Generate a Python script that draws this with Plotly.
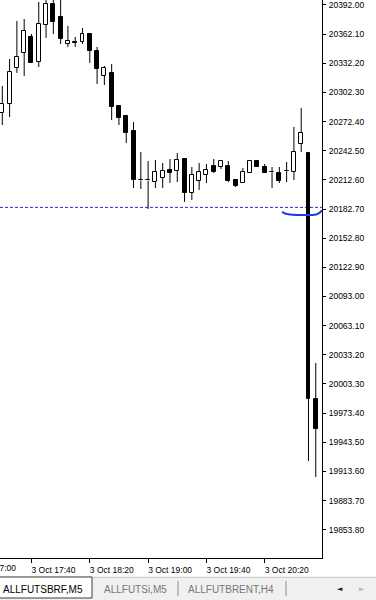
import plotly.graph_objects as go
from datetime import datetime

# ---------------- data ----------------
times = ["2023-10-03 %02d:%02d:00" % divmod(17 * 60 + 20 + 5 * i, 60) for i in range(44)]

opens = [20281.2, 20290.5, 20327.4, 20342.8, 20359.2, 20333.5, 20371.5, 20393.0, 20379.7, 20352.0,
         20353.5, 20354.1, 20362.3, 20344.8, 20319.2, 20322.3, 20288.4, 20278.1, 20262.8, 20212.5,
         20212.0, 20210.4, 20214.5, 20222.8, 20221.7, 20234.0, 20199.2, 20211.5, 20217.6, 20226.9,
         20225.8, 20226.9, 20212.5, 20209.4, 20219.7, 20232.0, 20225.8, 20220.7, 20219.7, 20221.7,
         20220.7, 20249.4, 20240.2, 19987.9]
highs = [20308.9, 20336.6, 20375.6, 20377.6, 20362.3, 20395.1, 20399.2, 20400.2, 20402.3, 20370.5,
         20359.2, 20368.4, 20363.3, 20348.9, 20329.4, 20331.5, 20289.4, 20279.2, 20272.0, 20241.2,
         20232.0, 20233.0, 20229.9, 20234.0, 20240.2, 20234.0, 20225.8, 20229.9, 20228.9, 20234.0,
         20233.0, 20232.0, 20213.5, 20224.8, 20232.0, 20233.0, 20228.9, 20225.8, 20225.8, 20231.0,
         20266.9, 20286.4, 20240.2, 20024.8]
lows = [20268.9, 20277.1, 20322.3, 20319.2, 20332.5, 20328.4, 20358.2, 20362.3, 20352.0, 20348.9,
        20348.9, 20352.0, 20332.5, 20311.0, 20309.9, 20274.0, 20268.9, 20250.5, 20204.3, 20203.3,
        20182.8, 20204.3, 20204.3, 20209.4, 20210.4, 20190.0, 20192.0, 20202.3, 20209.4, 20219.7,
        20223.8, 20210.4, 20205.3, 20209.4, 20219.7, 20225.8, 20219.7, 20204.3, 20209.4, 20210.4,
        20212.5, 20241.2, 19924.3, 19907.9]
closes = [20290.5, 20323.3, 20338.7, 20365.3, 20332.5, 20372.5, 20393.0, 20374.6, 20357.1, 20355.1,
          20353.0, 20362.3, 20344.8, 20326.4, 20327.4, 20287.4, 20276.1, 20260.7, 20212.5, 20212.0,
          20212.5, 20220.7, 20221.7, 20219.7, 20233.0, 20199.2, 20217.6, 20220.7, 20222.8, 20220.7,
          20232.0, 20211.5, 20206.4, 20220.7, 20232.0, 20225.8, 20219.7, 20220.4, 20211.5, 20221.4,
          20241.2, 20260.7, 19987.9, 19957.1]

price_ticks = [round(20392.00 - 29.9 * k, 2) for k in range(19)]
time_tick_vals = ["2023-10-03 17:40:00", "2023-10-03 18:20:00", "2023-10-03 19:00:00",
                  "2023-10-03 19:40:00", "2023-10-03 20:20:00"]
time_tick_text = ["3 Oct 17:40", "3 Oct 18:20", "3 Oct 19:00", "3 Oct 19:40", "3 Oct 20:20"]
offscreen_tick_val = "2023-10-03 17:00:00"
offscreen_tick_text = "3 Oct 17:00"

level_price = 20184.4
curve_times = ["2023-10-03 20:31:50", "2023-10-03 20:33:54", "2023-10-03 20:37:18",
               "2023-10-03 20:55:10", "2023-10-03 20:57:13", "2023-10-03 20:59:16"]
curve_prices = [20180.0, 20178.1, 20177.1, 20177.1, 20178.6, 20181.2]

tabs = ["ALLFUTSBRF,M5", "ALLFUTSi,M5", "ALLFUTBRENT,H4"]

# ---------------- layout geometry ----------------
W, H = 376, 600
PL, PR, PB = 0, 322, 558          # plot area in px
x_range = ["2023-10-03 17:18:25", "2023-10-03 20:59:16"]
y_range = [19824.8, 20397.1]
FONT = "Liberation Sans"

def px_x(px):
    return (px - PL) / (PR - PL)

def px_y(py):
    return (PB - py) / PB

fig = go.Figure()

# wicks (upper and lower segments, so hollow bodies stay clean)
wx, wy = [], []
for t, o, h, l, c in zip(times, opens, highs, lows, closes):
    top, bot = max(o, c), min(o, c)
    if h > top:
        wx += [t, t, None]; wy += [h, top, None]
    if l < bot:
        wx += [t, t, None]; wy += [bot, l, None]
fig.add_trace(go.Scatter(x=wx, y=wy, mode="lines", line=dict(color="black", width=1),
                         hoverinfo="skip", showlegend=False))

# bodies
bases = [min(o, c) for o, c in zip(opens, closes)]
heights = [max(abs(c - o), 0.8) for o, c in zip(opens, closes)]
fills = ["white" if c > o else "black" for o, c in zip(opens, closes)]
fig.add_trace(go.Bar(x=times, y=heights, base=bases, width=164000,
                     marker=dict(color=fills, line=dict(color="black", width=1)),
                     hoverinfo="skip", showlegend=False))

# blue drawn curve
fig.add_trace(go.Scatter(x=curve_times, y=curve_prices, mode="lines",
                         line=dict(color="#1f3be6", width=2, shape="spline"),
                         hoverinfo="skip", showlegend=False))

shapes = [
    dict(type="line", xref="paper", yref="y", x0=0, x1=1, y0=level_price, y1=level_price,
         line=dict(color="#2a2ad0", width=1, dash="3px,2px"), layer="below"),
    # tab bar
    dict(type="rect", xref="paper", yref="paper", x0=px_x(0), x1=px_x(W), y0=px_y(576), y1=px_y(600),
         fillcolor="#f0f0f0", line=dict(width=0)),
    dict(type="line", xref="paper", yref="paper", x0=px_x(92), x1=px_x(W), y0=px_y(577.5), y1=px_y(577.5),
         line=dict(color="#d0d0d0", width=1)),
    dict(type="rect", xref="paper", yref="paper", x0=px_x(-2), x1=px_x(92), y0=px_y(577), y1=px_y(598),
         fillcolor="white", line=dict(color="#3c3c3c", width=1)),
    dict(type="line", xref="paper", yref="paper", x0=px_x(178), x1=px_x(178), y0=px_y(581), y1=px_y(596),
         line=dict(color="#8a8a8a", width=1)),
    dict(type="line", xref="paper", yref="paper", x0=px_x(286), x1=px_x(286), y0=px_y(581), y1=px_y(596),
         line=dict(color="#8a8a8a", width=1)),
]

t0 = datetime.fromisoformat(x_range[0]); t1 = datetime.fromisoformat(x_range[1])
frac17 = (datetime.fromisoformat(offscreen_tick_val) - t0) / (t1 - t0)

annotations = [
    dict(text=offscreen_tick_text, xref="paper", yref="paper", x=frac17, y=px_y(568),
         xanchor="left", yanchor="middle", showarrow=False, xshift=-3,
         font=dict(family=FONT, size=8.5, color="black")),
    dict(text=tabs[0], xref="paper", yref="paper", x=px_x(43), y=px_y(589), xanchor="center",
         yanchor="middle", showarrow=False, font=dict(family=FONT, size=10, color="black")),
    dict(text=tabs[1], xref="paper", yref="paper", x=px_x(135.5), y=px_y(589), xanchor="center",
         yanchor="middle", showarrow=False, font=dict(family=FONT, size=10, color="#777777")),
    dict(text=tabs[2], xref="paper", yref="paper", x=px_x(231), y=px_y(589), xanchor="center",
         yanchor="middle", showarrow=False, font=dict(family=FONT, size=10, color="#777777")),
    dict(text="◄", xref="paper", yref="paper", x=px_x(340), y=px_y(589), xanchor="center",
         yanchor="middle", showarrow=False, font=dict(family="DejaVu Sans", size=7, color="#202020")),
    dict(text="►", xref="paper", yref="paper", x=px_x(362), y=px_y(589), xanchor="center",
         yanchor="middle", showarrow=False, font=dict(family="DejaVu Sans", size=7, color="#b8b8b8")),
]

fig.update_layout(
    width=W, height=H, autosize=False,
    margin=dict(l=PL, r=W - PR, t=0, b=H - PB, pad=0),
    paper_bgcolor="white", plot_bgcolor="white",
    showlegend=False, bargap=0, barmode="overlay",
    shapes=shapes, annotations=annotations,
    xaxis=dict(type="date", range=x_range, showgrid=False, zeroline=False,
               showline=True, linecolor="black", linewidth=1,
               ticks="outside", ticklen=4, tickcolor="black", tickwidth=1,
               tickvals=time_tick_vals, ticktext=time_tick_text,
               ticklabelshift=22, ticklabelstandoff=0,
               tickfont=dict(family=FONT, size=8.5, color="black"), fixedrange=True),
    yaxis=dict(side="right", range=y_range, showgrid=False, zeroline=False,
               showline=True, linecolor="black", linewidth=1,
               ticks="outside", ticklen=3, tickcolor="black", tickwidth=1,
               tickvals=price_ticks, ticktext=["%.2f" % v for v in price_ticks],
               ticklabelstandoff=1, ticklabeloverflow="allow",
               tickfont=dict(family=FONT, size=8.5, color="black"), fixedrange=True),
)

fig.write_html("out.html")
